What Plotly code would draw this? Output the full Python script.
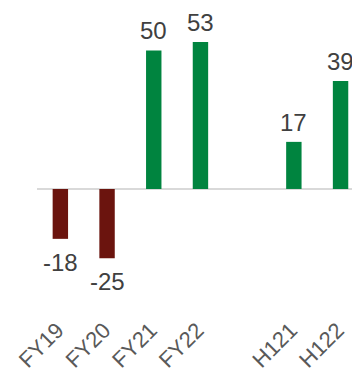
import plotly.graph_objects as go

categories = ["FY19", "FY20", "FY21", "FY22", " ", "H121", "H122"]
values = [-18, -25, 50, 53, None, 17, 39]
labels = ["-18", "-25", "50", "53", "", "17", "39"]

RED = "#6B140E"
GREEN = "#00843F"
colors = [RED if (v is not None and v < 0) else GREEN for v in values]

fig = go.Figure(go.Bar(
    x=categories,
    y=values,
    marker=dict(color=colors, line=dict(width=0)),
    width=0.33,
    hoverinfo="skip",
))

for c, v, t in zip(categories, values, labels):
    if v is None:
        continue
    fig.add_annotation(
        x=c, y=v, text=t, showarrow=False,
        xanchor="center",
        yanchor="bottom" if v >= 0 else "top",
        yshift=4 if v >= 0 else -8,
        font=dict(family="Liberation Sans, Arial, sans-serif", size=24, color="#404040"),
    )

fig.update_layout(
    width=352, height=379,
    margin=dict(l=37, r=0, t=0, b=67, autoexpand=False),
    paper_bgcolor="white", plot_bgcolor="white",
    showlegend=False,
    font=dict(family="Liberation Sans, Arial, sans-serif"),
    xaxis=dict(
        type="category",
        categoryorder="array", categoryarray=categories,
        range=[-0.5, 6.245],
        tickangle=-45,
        tickfont=dict(size=22, color="#595959"),
        ticklabelshift=-3,
        ticklabelstandoff=0,
        automargin=False,
        showgrid=False, showline=False, ticks="",
        fixedrange=True,
    ),
    yaxis=dict(
        range=[-44.4, 68.2],
        automargin=False,
        showgrid=False, showticklabels=False, ticks="",
        zeroline=True, zerolinecolor="#D9D9D9", zerolinewidth=1.5,
        showline=False,
    ),
)
fig.write_html("out.html")
